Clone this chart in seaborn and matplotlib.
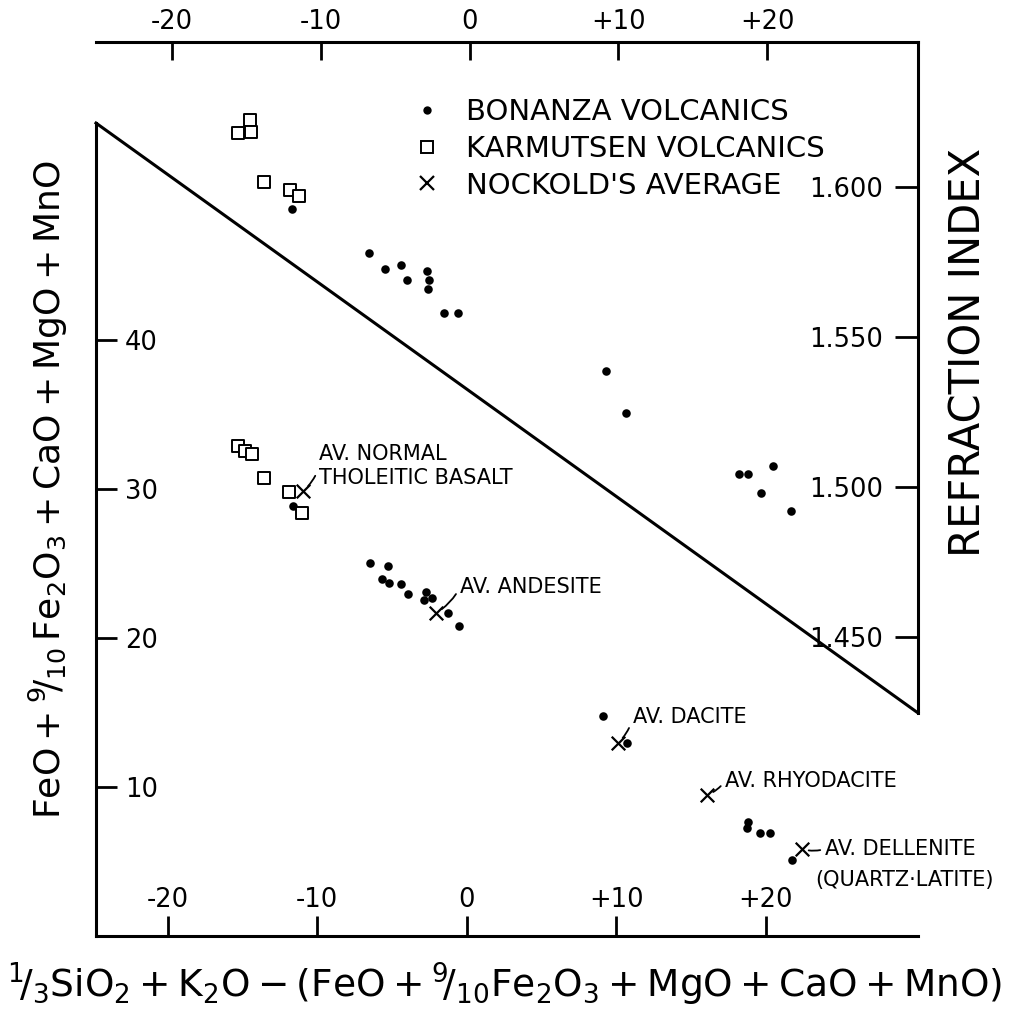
import matplotlib
matplotlib.use("Agg")
import matplotlib.pyplot as plt
from matplotlib.lines import Line2D
import pandas as pd
import seaborn as sns

# ---------------- data ----------------
x_ticks = [-20, -10, 0, 10, 20]
x_tick_labels = ["-20", "-10", "0", "+10", "+20"]
oxide_ticks = [10, 20, 30, 40]
oxide_tick_labels = ["10", "20", "30", "40"]
ri_ticks = [1.450, 1.500, 1.550, 1.600]
ri_tick_labels = ["1.450", "1.500", "1.550", "1.600"]

series_names = ["BONANZA VOLCANICS", "KARMUTSEN VOLCANICS", "NOCKOLD'S AVERAGE"]

# lower diagram: oxide sum (left axis) vs differentiation index (bottom axis)
bonanza_x = [-11.61, -6.46, -5.26, -5.66, -5.19, -4.39, -3.92, -2.72, -2.31, -2.85,
             -1.24, -0.51, 9.12, 10.72, 18.82, 18.76, 19.62, 20.29, 21.76]
bonanza_y = [28.86, 25.03, 24.83, 23.96, 23.69, 23.62, 22.95, 23.09, 22.68, 22.55,
             21.68, 20.81, 14.77, 12.95, 7.65, 7.25, 6.91, 6.91, 5.10]
karmutsen_x = [-15.29, -14.82, -14.36, -13.55, -11.88, -11.01]
karmutsen_y = [32.89, 32.55, 32.35, 30.74, 29.80, 28.39]
nockold_x = [-10.94, -2.05, 10.12, 16.08, 22.43]
nockold_y = [29.87, 21.68, 12.95, 9.46, 5.84]
nockold_labels = ["AV. NORMAL\nTHOLEITIC BASALT", "AV. ANDESITE", "AV. DACITE",
                  "AV. RHYODACITE", "AV. DELLENITE"]
dellenite_note = "(QUARTZ\u00b7LATITE)"

# upper diagram: refraction index (right axis) vs differentiation index (top axis)
bonanza_top_x = [-11.94, -6.76, -5.69, -4.61, -4.21, -2.86, -2.72, -2.80, -1.73, -0.78,
                 9.17, 10.52, 18.11, 18.72, 20.40, 19.59, 21.61]
bonanza_ri = [1.5927, 1.5780, 1.5727, 1.5740, 1.5690, 1.5720, 1.5690, 1.5660, 1.5580, 1.5580,
              1.5387, 1.5247, 1.5043, 1.5043, 1.5070, 1.4980, 1.4920]
karmutsen_top_x = [-15.56, -14.76, -14.70, -13.82, -12.08, -11.47]
karmutsen_ri = [1.6180, 1.6223, 1.6183, 1.6017, 1.5990, 1.5970]

# dividing line between the two diagrams (lower-diagram coordinates)
boundary_x = [-24.8, 30.2]
boundary_y = [54.56, 14.97]

x_label = (r"$\mathregular{{}^{1}\!/_{3}SiO_2+K_2O-(FeO+{}^{9}\!/_{10}"
           r"Fe_2O_3+MgO+CaO+MnO)}$")
y_label = r"$\mathregular{FeO+{}^{9}\!/_{10}\,Fe_2O_3+CaO+MgO+MnO}$"
ri_label = "REFRACTION INDEX"

lower_bon = pd.DataFrame({"x": bonanza_x, "y": bonanza_y})
lower_kar = pd.DataFrame({"x": karmutsen_x, "y": karmutsen_y})
lower_noc = pd.DataFrame({"x": nockold_x, "y": nockold_y})
upper_bon = pd.DataFrame({"x": bonanza_top_x, "ri": bonanza_ri})
upper_kar = pd.DataFrame({"x": karmutsen_top_x, "ri": karmutsen_ri})

# ---------------- style ----------------
sns.set_style("white")
plt.rcParams["font.family"] = ["DejaVu Sans"]
plt.rcParams["mathtext.fontset"] = "dejavusans"
plt.rcParams["mathtext.default"] = "regular"
plt.rcParams["text.color"] = "black"
plt.rcParams["axes.labelcolor"] = "black"
plt.rcParams["xtick.color"] = "black"
plt.rcParams["ytick.color"] = "black"

W, H = 1009, 1018
fig = plt.figure(figsize=(W / 100, H / 100), dpi=100)
rect = [96 / W, (H - 936) / H, 822 / W, 894 / H]
ax = fig.add_axes(rect)
ax2 = fig.add_axes(rect, label="upper")
ax2.patch.set_visible(False)

LW = 2.2
dot_kw = dict(marker="o", s=38, color="k", edgecolor="k", linewidth=0, zorder=3)
sq_kw = dict(marker="s", s=70, color="k", facecolor="white", edgecolor="k",
             linewidth=1.4, zorder=3)
x_kw = dict(marker="x", s=95, color="k", edgecolor=None, linewidth=1.6, zorder=4)

sns.scatterplot(data=lower_bon, x="x", y="y", ax=ax, **dot_kw)
sns.scatterplot(data=lower_kar, x="x", y="y", ax=ax, **sq_kw)
sns.scatterplot(data=lower_noc, x="x", y="y", ax=ax, **x_kw)
sns.scatterplot(data=upper_bon, x="x", y="ri", ax=ax2, **dot_kw)
sns.scatterplot(data=upper_kar, x="x", y="ri", ax=ax2, **sq_kw)

ax.set_xlim(-24.8, 30.2)
ax.set_ylim(0, 60)
ax2.set_xlim(-25.12, 30.14)
ax2.set_ylim(1.3503, 1.6483)

ax.plot(boundary_x, boundary_y, color="k", lw=LW, clip_on=False,
        solid_capstyle="projecting")

# spines
for a in (ax, ax2):
    for sp in a.spines.values():
        sp.set_color("k")
        sp.set_linewidth(LW)
        sp.set_capstyle("projecting")
ax.spines["top"].set_visible(False)
ax.spines["right"].set_visible(False)
ax.spines["left"].set_bounds(0, boundary_y[0])
ax2.spines["left"].set_visible(False)
ax2.spines["bottom"].set_visible(False)
ax2.spines["right"].set_bounds(1.4247, 1.6483)

# ticks
TL = 18.5
ax.set_xticks(x_ticks, x_tick_labels)
ax.tick_params(axis="x", direction="in", length=14.4, width=2, labelsize=TL,
               pad=-35, bottom=True, top=False, colors="k")
ax.set_yticks(oxide_ticks, oxide_tick_labels)
ax.tick_params(axis="y", direction="in", length=15, width=2, labelsize=TL,
               pad=-21, left=True, right=False, colors="k")
for t in ax.get_yticklabels():
    t.set_horizontalalignment("left")

ax2.xaxis.tick_top()
ax2.yaxis.tick_right()
ax2.set_xticks(x_ticks, x_tick_labels)
ax2.tick_params(axis="x", direction="in", length=13, width=2, labelsize=TL,
                pad=5.3, top=True, bottom=False, labeltop=True, labelbottom=False,
                colors="k")
ax2.set_yticks(ri_ticks, ri_tick_labels)
ax2.tick_params(axis="y", direction="in", length=16.5, width=2, labelsize=TL,
                pad=-25, right=True, left=False, labelright=True, labelleft=False,
                colors="k")
for t in ax2.get_yticklabels():
    t.set_horizontalalignment("right")

# axis labels
ax.set_xlabel(x_label, fontsize=27, va="center", color="k")
ax.xaxis.set_label_coords(0.4976, -0.0537)
ax.set_ylabel(y_label, fontsize=26, va="center", color="k")
ax.yaxis.set_label_coords(-0.0585, 0.5)
ax2.set_xlabel("")
ax2.yaxis.set_label_position("right")
ax2.set_ylabel(ri_label, fontsize=30, va="center", rotation=90, color="k")
ax2.yaxis.set_label_coords(1.062, 0.653)

# annotations of Nockold's averages
ann_offsets = [(16, 25), (24, 26), (15, 26), (18, 14), (23, 0)]
for lab, xv, yv, off in zip(nockold_labels, nockold_x, nockold_y, ann_offsets):
    ax.annotate(lab, xy=(xv, yv), xytext=off, textcoords="offset pixels",
                ha="left", va="center", fontsize=15, linespacing=1.3, color="k",
                arrowprops=dict(arrowstyle="-", color="k", lw=1.3, shrinkA=1,
                                shrinkB=5, relpos=(0, 0.5),
                                connectionstyle="arc3,rad=-0.15"))
ax.annotate(dellenite_note, xy=(nockold_x[-1], nockold_y[-1]), xytext=(13, -31),
            textcoords="offset pixels", ha="left", va="center", fontsize=15,
            color="k")

# legend
handles = [
    Line2D([], [], ls="none", marker="o", color="k", markersize=6, markeredgewidth=0),
    Line2D([], [], ls="none", marker="s", markerfacecolor="white",
           markeredgecolor="k", markersize=8.5, markeredgewidth=1.4),
    Line2D([], [], ls="none", marker="x", color="k", markersize=10,
           markeredgewidth=1.6),
]
leg = ax2.legend(handles, series_names, loc="upper left",
                 bbox_to_anchor=(412 / W, 1 - 98 / H), bbox_transform=fig.transFigure,
                 frameon=False, fontsize=21, handlelength=1.0, handletextpad=0.85,
                 labelspacing=0.30, borderpad=0, borderaxespad=0)
for txt in leg.get_texts():
    txt.set_color("k")

fig.savefig("out.png", dpi=100, facecolor="white")
